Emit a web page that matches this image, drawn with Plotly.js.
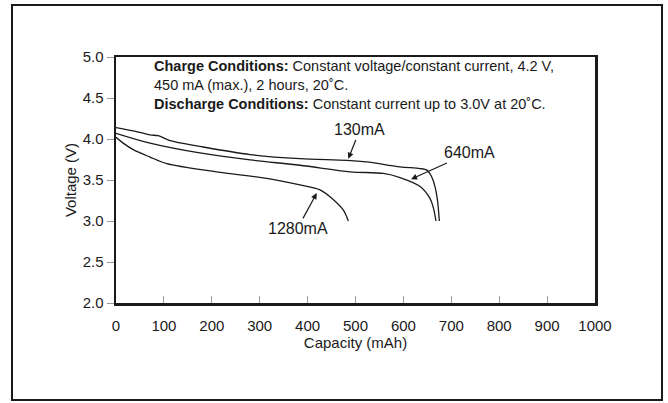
<!DOCTYPE html>
<html>
<head>
<meta charset="utf-8">
<script src="https://cdn.plot.ly/plotly-3.0.1.min.js"></script>
<style>html,body{margin:0;padding:0;background:#fff;}#chart{width:668px;height:403px;}</style>
</head>
<body>
<div id="chart"></div>
<script>
// Discharge curves (capacity in mAh, voltage in V)
const cap130  = [0, 36, 71, 88, 113, 175, 280, 384, 482, 523, 593, 635, 649, 659, 666, 671, 675];
const volt130 = [4.14, 4.10, 4.05, 4.04, 3.98, 3.91, 3.81, 3.76, 3.74, 3.72, 3.66, 3.64, 3.62, 3.54, 3.42, 3.26, 3.00];

const cap640  = [0, 71, 175, 280, 384, 489, 558, 593, 635, 656, 663, 668];
const volt640 = [4.07, 3.95, 3.83, 3.745, 3.68, 3.60, 3.58, 3.53, 3.42, 3.27, 3.15, 3.00];

const cap1280  = [0, 15, 36, 71, 106, 210, 315, 384, 426, 454, 475, 485];
const volt1280 = [4.02, 3.95, 3.87, 3.78, 3.70, 3.60, 3.52, 3.44, 3.38, 3.26, 3.13, 3.00];

const seriesNames = ["130mA", "640mA", "1280mA"];
const xTicks = [0, 100, 200, 300, 400, 500, 600, 700, 800, 900, 1000];
const yTicks = [2.0, 2.5, 3.0, 3.5, 4.0, 4.5, 5.0];

// label positions (text) and arrow heads, in data units
const labelText  = [[509, 4.11], [737, 3.83], [379, 2.91]];
const labelHead  = [[485, 3.76], [616, 3.51], [419, 3.34]];

const conditionText =
  "<b>Charge Conditions:</b> Constant voltage/constant current, 4.2 V,<br>" +
  "450 mA (max.), 2 hours, 20˚C.<br>" +
  "<b>Discharge Conditions:</b> Constant current up to 3.0V at 20˚C.";

const FONT = "Liberation Sans, Arial, Helvetica, sans-serif";
const caps = [cap130, cap640, cap1280];
const volts = [volt130, volt640, volt1280];

const traces = caps.map((c, i) => ({
  x: c, y: volts[i], name: seriesNames[i], type: "scatter", mode: "lines",
  line: {color: "#1a1a1a", width: 1.3, shape: "spline", smoothing: 0.9},
  hoverinfo: "skip"
}));

const annotations = [];
seriesNames.forEach((n, i) => {
  annotations.push({
    x: labelHead[i][0], y: labelHead[i][1], xref: "x", yref: "y",
    ax: labelText[i][0], ay: labelText[i][1], axref: "x", ayref: "y",
    text: n, showarrow: true, arrowhead: 2, arrowsize: 1, arrowwidth: 1.2,
    arrowcolor: "#1a1a1a", font: {family: FONT, size: 16, color: "#1a1a1a"}
  });
});
annotations.push({
  x: 0.0752, y: 0.886, xref: "paper", yref: "paper",
  xanchor: "left", yanchor: "middle", showarrow: false, align: "left",
  text: conditionText, font: {family: FONT, size: 14.5, color: "#1a1a1a"}
});

const layout = {
  width: 668, height: 403,
  margin: {l: 116, r: 73, t: 57, b: 100},
  paper_bgcolor: "#fff", plot_bgcolor: "#fff",
  showlegend: false,
  font: {family: FONT, color: "#1a1a1a", size: 15},
  xaxis: {
    range: [0, 1000], tickvals: xTicks, ticktext: xTicks.map(String),
    ticks: "inside", ticklen: 7, tickcolor: "#999", tickwidth: 1,
    showline: true, linecolor: "#1a1a1a", linewidth: 2.5, mirror: true,
    showgrid: false, zeroline: false, ticklabelstandoff: 7,
    tickfont: {size: 15},
    title: {text: "Capacity (mAh)", font: {size: 15}, standoff: 3}
  },
  yaxis: {
    range: [2.0, 5.0], tickvals: yTicks, ticktext: yTicks.map(v => v.toFixed(1)),
    ticks: "outside", ticklen: 7, tickcolor: "#999", tickwidth: 1,
    showline: true, linecolor: "#1a1a1a", linewidth: 2.5, mirror: true,
    showgrid: false, zeroline: false, ticklabelstandoff: 0,
    tickfont: {size: 15},
    title: {text: "Voltage (V)", font: {size: 15}, standoff: 3}
  },
  shapes: [{
    type: "rect", xref: "paper", yref: "paper",
    x0: -0.2171, x1: 1.1399, y0: -0.3943, y1: 1.2114,
    line: {color: "#1a1a1a", width: 2}, fillcolor: "rgba(0,0,0,0)", layer: "below"
  }],
  annotations: annotations
};

Plotly.newPlot("chart", traces, layout, {displayModeBar: false, staticPlot: true});
</script>
</body>
</html>
